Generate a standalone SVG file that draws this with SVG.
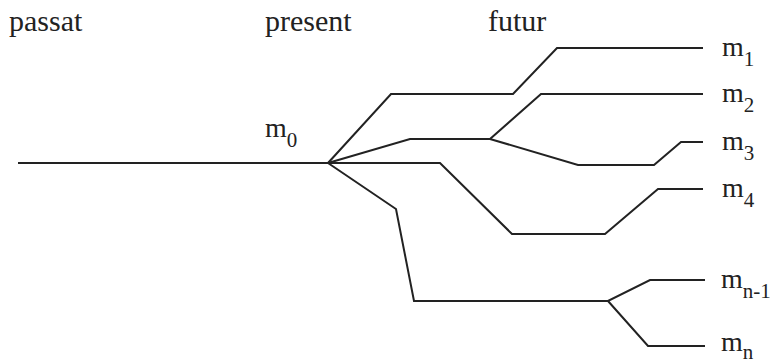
<svg xmlns="http://www.w3.org/2000/svg" width="777" height="363" viewBox="0 0 777 363">
<style>
.t{font-family:'Liberation Serif',Tinos,'Times New Roman','DejaVu Serif',serif;font-size:30px;fill:#222}
.m{font-family:'Liberation Serif',Tinos,'Times New Roman','DejaVu Serif',serif;font-size:28px;fill:#222}
.s{font-size:21px}
.c{fill:none;stroke:#222;stroke-width:2;stroke-linejoin:miter}
</style>
<rect width="777" height="363" fill="#fff"/>
<g id="headers">
<text class="t" x="9" y="31" font-family="Liberation Serif">passat</text>
<text class="t" x="265" y="31" font-family="Liberation Serif">present</text>
<text class="t" x="488" y="31" font-family="Liberation Serif">futur</text>
</g>
<g id="connectors">
<path class="c" d="M18,163 H328"/>
<path class="c" d="M328,163 L391,94 H513 L557,48 H703"/>
<path class="c" d="M328,163 L410,139 H490 L541,94 H703"/>
<path class="c" d="M490,139 L578,165 H654 L681,142 H703"/>
<path class="c" d="M328,163 H440 L512,234 H605 L658,189 H703"/>
<path class="c" d="M328,163 L396,209 L414,301 H608 L650,280 H705"/>
<path class="c" d="M608,301 L648,346 H705"/>
</g>
<g id="m0"><text class="m" x="265" y="137" font-family="Liberation Serif">m<tspan class="s" dy="10">0</tspan></text></g>
<g id="m1"><text class="m" x="722" y="56" font-family="Liberation Serif">m<tspan class="s" dy="10">1</tspan></text></g>
<g id="m2"><text class="m" x="722" y="102" font-family="Liberation Serif">m<tspan class="s" dy="10">2</tspan></text></g>
<g id="m3"><text class="m" x="722" y="150" font-family="Liberation Serif">m<tspan class="s" dy="10">3</tspan></text></g>
<g id="m4"><text class="m" x="722" y="197" font-family="Liberation Serif">m<tspan class="s" dy="10">4</tspan></text></g>
<g id="mn-1"><text class="m" x="721" y="288" font-family="Liberation Serif">m<tspan class="s" dy="10">n-1</tspan></text></g>
<g id="mn"><text class="m" x="721" y="351" font-family="Liberation Serif">m<tspan class="s" dy="8">n</tspan></text></g>
</svg>
